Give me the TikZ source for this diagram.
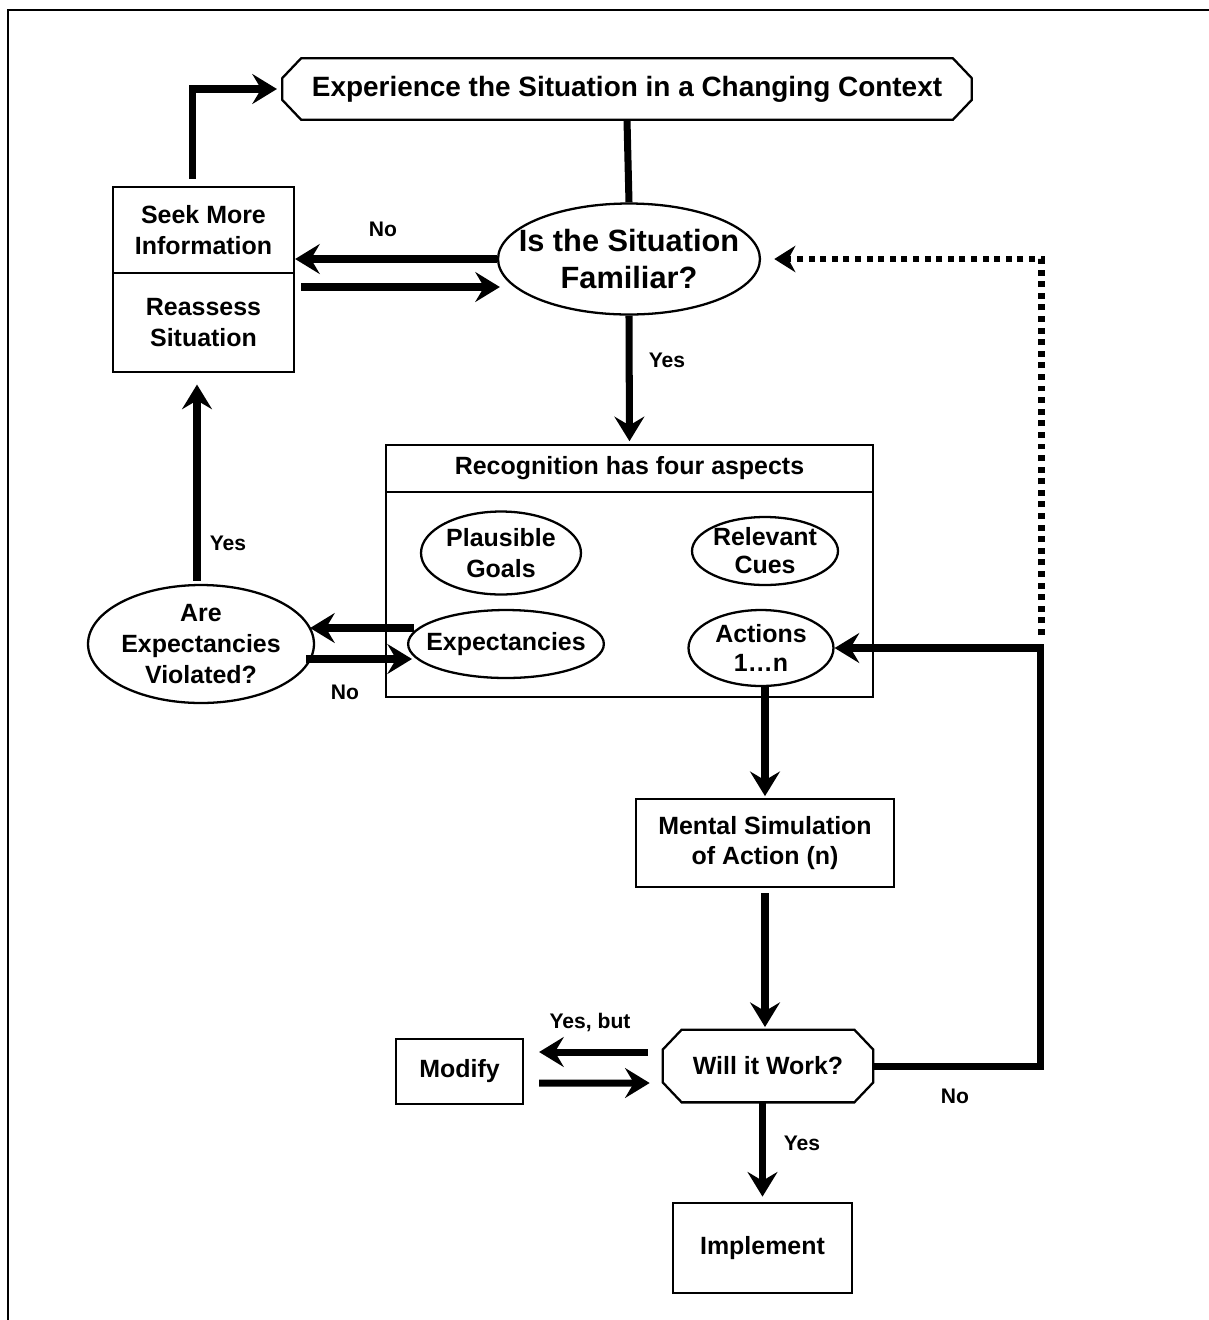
\documentclass[tikz,border=0pt]{standalone}
\usepackage{fontspec}
\setmainfont{Liberation Sans}
\usetikzlibrary{arrows.meta,calc,shapes.geometric}
\newcommand{\octagon}[1]{%
  \draw[line width=1.3pt] ($(#1.north west)+(19,0)$) -- ($(#1.north east)+(-19,0)$)
    -- ($(#1.north east)+(0,20)$) -- ($(#1.south east)+(0,-20)$) -- ($(#1.south east)+(-19,0)$)
    -- ($(#1.south west)+(19,0)$) -- ($(#1.south west)+(0,-20)$) -- ($(#1.north west)+(0,20)$) -- cycle;}

\begin{document}
\begin{tikzpicture}[x=0.02cm,y=-0.02cm,
  txt/.style={font=\bfseries\fontsize{14.2}{17.5}\selectfont,align=center,inner sep=0pt},
  box/.style={txt,draw,line width=1.3pt,rectangle},
  oval/.style={txt,draw,line width=1.3pt,ellipse},
  flow/.style={line width=4pt,-{Stealth[length=14pt,width=17pt,inset=5pt]}},
  lbl/.style={font=\bfseries\fontsize{12}{14}\selectfont}]
\useasboundingbox (0,0) rectangle (1209,1320);
\draw[line width=1.2pt] (8,1320) -- (8,10) -- (1209,10);

\node[txt,minimum width=13.78cm,minimum height=1.22cm,font=\bfseries\fontsize{15.9}{19}\selectfont] (exp) at (627,89) {Experience the Situation in a Changing Context};
\octagon{exp}
\node[oval,minimum width=5.16cm,minimum height=2.22cm,inner xsep=-10pt,inner ysep=0pt,font=\bfseries\fontsize{17.5}{21.5}\selectfont] (fam) at (629,259) {Is the Situation\\Familiar?};
\node[box,minimum width=3.62cm,minimum height=1.72cm] (seek) at (203.5,230) {Seek More\\Information};
\node[box,minimum width=3.62cm,minimum height=1.98cm] (reas) at (203.5,322.5) {Reassess\\Situation};

\node[box,minimum width=9.74cm,minimum height=0.94cm] (rechead) at (629.5,468.5) {Recognition has four aspects};
\node[box,minimum width=9.74cm,minimum height=4.10cm] (recbody) at (629.5,594.5) {};
\node[oval,minimum width=3.2cm,minimum height=1.66cm] (goals) at (501,553) {Plausible\\Goals};
\node[oval,minimum width=2.92cm,minimum height=1.36cm,inner sep=-3pt,font=\bfseries\fontsize{14.2}{16}\selectfont] (cues) at (765,551) {Relevant\\Cues};
\node[oval,minimum width=3.9cm,minimum height=1.36cm,inner xsep=-6pt] (expe) at (506,644) {Expectancies};
\node[oval,minimum width=2.9cm,minimum height=1.52cm,inner sep=-3pt,font=\bfseries\fontsize{14.2}{16.5}\selectfont] (act) at (761,648) {Actions\\1…n};
\node[oval,minimum width=4.52cm,minimum height=2.36cm,inner sep=-3pt] (are) at (201,644) {Are\\Expectancies\\Violated?};

\node[box,minimum width=5.16cm,minimum height=1.76cm] (ment) at (765,843) {Mental Simulation\\of Action (n)};
\node[txt,minimum width=4.2cm,minimum height=1.44cm] (will) at (768,1066) {Will it Work?};
\octagon{will}
\node[box,minimum width=2.54cm,minimum height=1.3cm] (modify) at (459.5,1071.5) {Modify};
\node[box,minimum width=3.58cm,minimum height=1.8cm] (impl) at (762.5,1248) {Implement};

\draw[line width=4pt] (exp.south) -- (fam.north);
\draw[flow] (fam.west) -- (fam.west -| seek.east);
\draw[flow] ($(reas.east)+(6,-35.5)$) -- ($(fam.west)+(3,28)$);
\draw[flow,shorten >=3pt] ($(seek.north)+(-11,-7)$) |- (exp.west);
\draw[flow,shorten >=1.5pt] (fam.south) -- (rechead.north);
\draw[flow] ($(expe.west)+(7,-16)$) -- ($(are.east)+(-5,-16)$);
\draw[flow] ($(are.east)+(-9,15)$) -- ($(expe.west)+(5,15)$);
\coordinate (areup) at ($(are.north)+(-4,-3)$);
\draw[flow,shorten >=6.5pt] (areup) -- (areup |- reas.south);
\draw[flow,shorten >=1pt] (ment.north |- act.south) -- (ment.north);
\draw[flow,shorten <=3pt,shorten >=1.5pt] (ment.south) -- (ment.south |- will.north);
\draw[flow] ($(will.west)+(-15,-14)$) -- ($(modify.east)+(15,-19.5)$);
\draw[flow] ($(modify.east)+(15,11.5)$) -- ($(will.west)+(-13,17)$);
\draw[flow,shorten >=3pt] (will.south -| impl.north) -- (impl.north);
\draw[flow] (will.east) -- ++(167,0) |- (act.east);
\draw[line width=3.6pt,dash pattern=on 3.4pt off 3.2pt,-{Stealth[length=12pt,width=15pt,inset=4pt]},shorten >=7.5pt]
  ($(act.east)+(207,-13)$) |- (fam.east);

\node[lbl] (no1) at (383,229) {No};
\node[lbl] (yes1) at (667,360) {Yes};
\node[lbl] (yes2) at (228,543) {Yes};
\node[lbl] (no2) at (345,692) {No};
\node[lbl] (yesbut) at (590,1022) {Yes, but};
\node[lbl] (no3) at (955,1096) {No};
\node[lbl] (yes3) at (802,1143) {Yes};
\end{tikzpicture}
\end{document}
